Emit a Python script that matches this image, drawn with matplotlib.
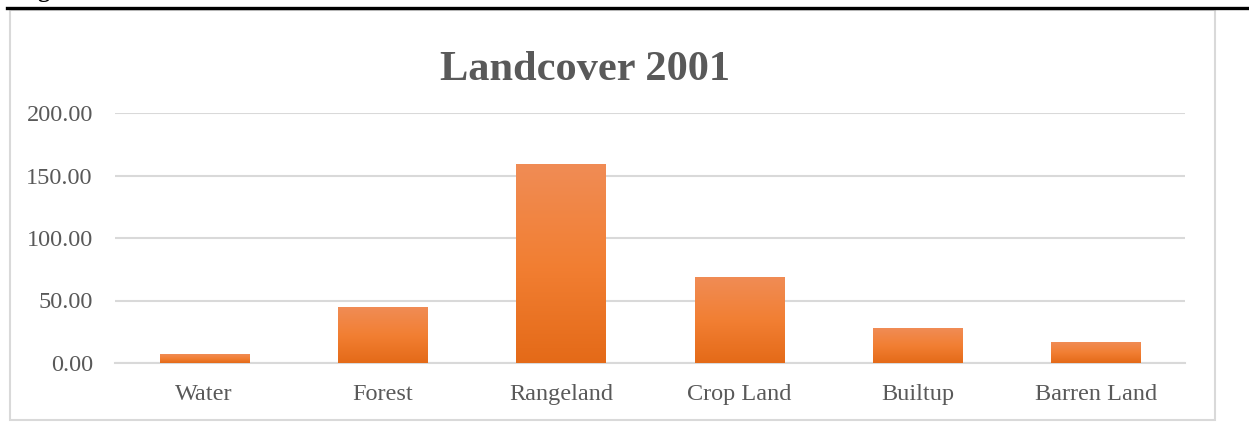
import numpy as np
import matplotlib.pyplot as plt
import matplotlib.patheffects as pe
from matplotlib.colors import LinearSegmentedColormap
from matplotlib.lines import Line2D
from matplotlib.patches import Rectangle

# Landcover 2001 data
categories = ["Water", "Forest", "Rangeland", "Crop Land", "Builtup", "Barren Land"]
values = [7.2, 44.8, 159.0, 68.8, 28.0, 16.8]
yticks = [0, 50, 100, 150, 200]

plt.rcParams["font.family"] = ["Liberation Serif", "DejaVu Serif"]
text_color = "#595959"
grid_color = "#D9D9D9"

fig = plt.figure(figsize=(12.49, 4.24), dpi=100)

# heavy rule at the top of the page and the chart border
fig.add_artist(Line2D([7 / 1249, 1], [1 - 7.5 / 424, 1 - 7.5 / 424],
                      color="black", lw=2.4, transform=fig.transFigure))
fig.add_artist(Rectangle((10 / 1249, 1 - 420 / 424), 1205 / 1249, 410 / 424,
                         fill=False, edgecolor=grid_color, lw=1.5,
                         transform=fig.transFigure))
# cut-off caption from the page above
fig.text(18 / 1249, 1 + 3 / 424, "Fig", fontsize=17, fontweight="bold",
         va="baseline", ha="left", color="black")

ax = fig.add_axes([115 / 1249, 1 - 363 / 424, 1070 / 1249, 250 / 424])
x = np.arange(len(categories))
bars = ax.bar(x, values, width=0.5, color="#ED7D31", zorder=3,
              path_effects=[pe.SimplePatchShadow(offset=(0, -1.5), shadow_rgbFace="#7f7f7f", alpha=0.35),
                            pe.Normal()])

# vertical gradient inside each bar
cmap = LinearSegmentedColormap.from_list("orng", ["#E46A18", "#F27F33", "#F08C55"])
grad = np.linspace(0, 1, 256).reshape(-1, 1)
for b in bars:
    im = ax.imshow(grad, cmap=cmap, origin="lower", aspect="auto", zorder=4,
                   extent=[b.get_x(), b.get_x() + b.get_width(), 0, b.get_height()])
    im.set_clip_path(b)

ax.set_xlim(-0.5, len(categories) - 0.5)
ax.set_ylim(0, 200)
ax.set_yticks(yticks)
ax.set_yticklabels([f"{v:.2f}" for v in yticks])
ax.set_xticks(x)
ax.set_xticklabels(categories)
ax.yaxis.grid(True, color=grid_color, lw=1.5, zorder=0)
ax.set_axisbelow(True)
for s in ["top", "right", "left"]:
    ax.spines[s].set_visible(False)
ax.spines["bottom"].set_color(grid_color)
ax.spines["bottom"].set_linewidth(1.5)
ax.tick_params(axis="both", length=0, labelsize=17.5, labelcolor=text_color)
ax.tick_params(axis="y", pad=16)
ax.tick_params(axis="x", pad=15)

fig.text(585 / 1249, 1 - 80 / 424, "Landcover 2001", fontsize=30.5, fontweight="bold",
         color=text_color, ha="center", va="baseline")

fig.savefig("out.png", dpi=100)
